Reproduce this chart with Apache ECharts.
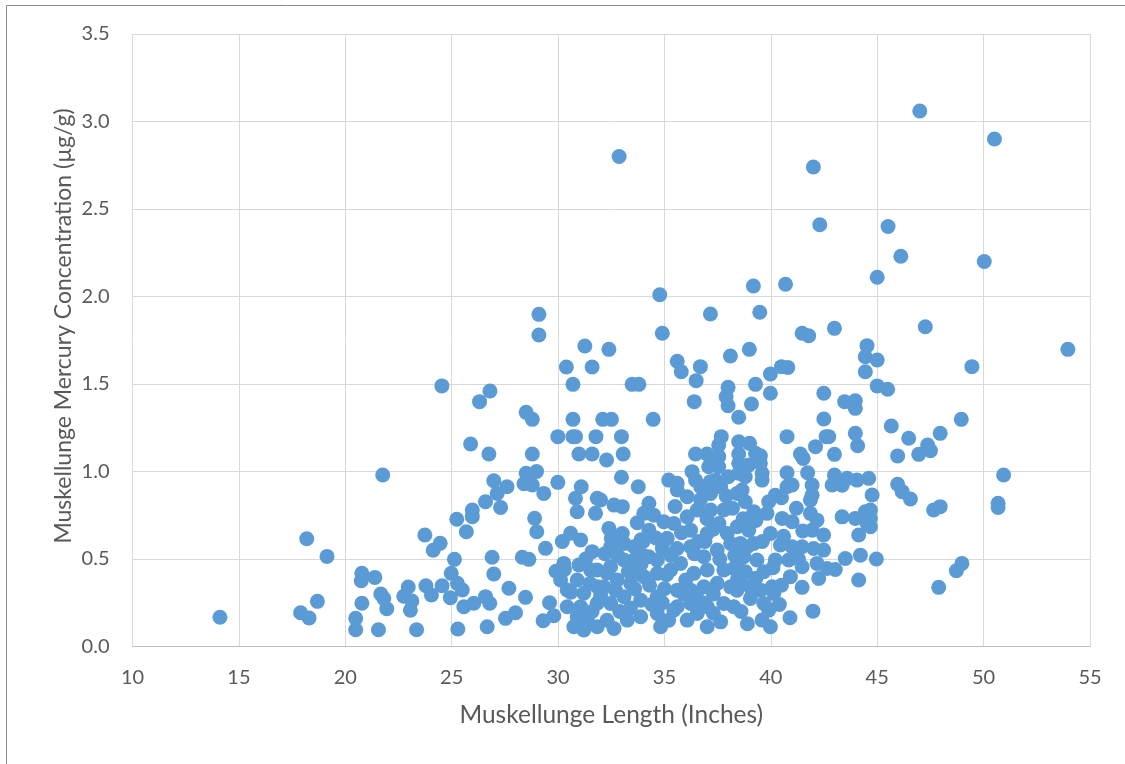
<!DOCTYPE html>
<html>
<head>
<meta charset="utf-8">
<script src="https://cdn.jsdelivr.net/npm/echarts@6/dist/echarts.min.js"></script>
<style>html,body{margin:0;padding:0;background:#fff}#c{width:1125px;height:764px}</style>
</head>
<body>
<div id="c"></div>
<script>
// Muskellunge length (inches) and mercury concentration (µg/g)
var lengthInches = [
32.87,47.0,50.51,42.0,42.3,45.51,46.11,50.03,45.0,39.18,40.69,34.78,
24.54,21.76,18.19,19.14,14.11,17.9,18.3,18.69,20.78,20.75,21.39,20.78,20.49,20.49,21.56,21.67,21.81,21.95,22.96,22.75,23.13,23.06,23.35,23.74,24.46,24.13,23.79,24.05,24.55,25.13,24.98,24.94,25.24,25.29,
29.1,29.1,31.26,32.39,30.39,31.6,30.7,33.48,33.8,26.8,26.31,28.5,28.79,30.7,32.1,32.51,34.47,29.99,30.7,30.82,31.78,32.98,25.89,26.75,28.79,30.98,31.6,32.28,33.06,32.98,26.98,28.5,28.99,27.6,28.4,29.99,31.09,33.77,
34.9,37.16,39.48,41.47,41.78,42.99,44.52,44.44,44.44,35.6,35.79,36.69,36.49,38.1,38.99,39.98,40.5,40.8,37.99,37.9,37.99,39.28,39.98,39.09,38.49,36.4,42.49,43.47,43.97,43.97,42.49,43.97,44.08,42.72,42.6,42.1,42.99,40.76,41.39,41.52,37.67,37.55,38.49,39.0,38.49,39.28,39.51,36.46,37.0,37.55,36.3,37.08,37.55,38.49,38.96,39.51,39.59,39.59,40.76,41.73,42.99,43.58,44.05,44.6,35.2,35.6,36.46,37.16,38.49,38.8,40.76,41.0,41.94,42.88,38.65,
47.26,49.45,53.96,45.0,45.0,45.49,45.66,48.95,47.96,46.48,47.37,47.5,46.95,45.96,50.94,45.96,46.17,46.56,44.76,47.65,47.96,50.68,50.68,44.68,44.68,44.68,44.96,48.98,48.72,47.89,
27.14,29.33,26.59,27.3,25.97,25.97,25.69,28.9,29.0,29.41,26.9,26.98,28.32,28.63,25.27,25.5,27.69,28.47,26.59,26.79,25.57,26.04,27.53,28.0,26.67,29.3,29.8,28.79,
30.82,30.9,31.76,31.84,30.59,31.06,31.6,30.27,30.98,30.12,30.9,31.53,30.43,31.21,31.84,30.43,31.06,31.84,30.9,31.37,30.74,31.21,31.84,
32.0,32.63,33.02,34.27,34.03,33.72,34.27,32.39,33.02,33.1,32.47,31.84,32.47,33.57,34.27,34.97,35.13,34.9,35.44,36.07,36.54,37.17,37.79,37.56,37.95,38.42,38.42,35.6,36.07,36.7,37.17,37.64,36.23,36.85,37.48,38.11,35.76,36.38,37.01,37.79,38.42,32.16,32.78,33.41,34.03,34.66,35.29,32.47,33.1,33.88,34.66,35.6,36.23,36.85,37.48,38.11,38.42,32.63,33.25,33.88,34.66,34.82,35.44,36.07,36.54,37.01,37.64,38.26,37.79,37.01,36.23,35.6,
33.57,34.66,33.1,36.23,37.01,35.6,36.6,34.0,35.0,33.5,37.3,36.0,
41.94,43.35,38.8,39.2,39.9,40.21,39.82,40.53,41.0,41.86,41.86,42.17,41.94,42.48,43.35,43.97,44.44,44.52,44.13,39.98,38.96,38.57,39.2,40.45,41.0,41.47,42.01,42.48,38.73,39.35,40.21,40.84,41.47,42.17,42.64,43.03,43.5,44.21,42.25,44.13,38.26,38.8,39.67,40.92,41.47,40.06,39.04,38.41,39.51,40.14,39.04,39.67,39.9,39.59,39.98,40.9,41.98,
30.3,30.6,31.5,31.3,32.2,32.5,32.8,33.3,33.6,33.4,32.9,32.3,32.0,32.7,33.9,34.3,34.4,34.9,35.2,35.3,35.8,35.5,34.6,34.5,34.0,35.9,36.5,36.8,37.3,36.4,36.9,37.3,37.6,37.0,36.7,37.9,38.2,37.4,38.0,38.3,38.6,38.9,39.3,39.6,38.7,39.3,40.1,40.5,40.6,40.5,41.2,41.3,41.5,40.4,38.6,38.9,31.6,29.6,29.9,30.2,32.3,33.9,35.1
];
var mercuryUgG = [
2.80,3.06,2.90,2.74,2.41,2.40,2.23,2.20,2.11,2.06,2.07,2.01,
1.489,0.98,0.616,0.515,0.167,0.193,0.163,0.258,0.418,0.376,0.395,0.247,0.161,0.096,0.096,0.30,0.275,0.216,0.34,0.287,0.26,0.207,0.096,0.637,0.59,0.55,0.347,0.294,0.347,0.498,0.418,0.279,0.727,0.10,
1.898,1.78,1.717,1.698,1.597,1.597,1.498,1.498,1.498,1.46,1.399,1.338,1.298,1.298,1.298,1.298,1.298,1.199,1.199,1.199,1.199,1.199,1.157,1.10,1.10,1.10,1.10,1.066,1.10,0.967,0.947,0.99,1.0,0.913,0.93,0.938,0.913,0.913,
1.79,1.90,1.91,1.79,1.776,1.818,1.719,1.656,1.57,1.63,1.57,1.599,1.519,1.66,1.698,1.557,1.599,1.595,1.481,1.427,1.376,1.498,1.447,1.386,1.31,1.399,1.447,1.399,1.404,1.361,1.30,1.218,1.147,1.199,1.199,1.142,1.098,1.199,1.10,1.075,1.199,1.151,1.17,1.161,1.10,1.104,1.09,1.10,1.10,1.085,0.999,1.027,1.027,1.047,1.037,1.047,0.99,0.951,0.993,0.993,0.98,0.961,0.951,0.961,0.951,0.933,0.951,0.942,0.99,0.97,0.913,0.923,0.923,0.923,0.894,
1.827,1.599,1.698,1.637,1.489,1.47,1.26,1.298,1.218,1.19,1.151,1.119,1.098,1.089,0.98,0.927,0.885,0.843,0.866,0.78,0.799,0.818,0.795,0.78,0.733,0.685,0.50,0.475,0.433,0.338,
0.875,0.875,0.827,0.795,0.78,0.742,0.656,0.733,0.656,0.561,0.51,0.414,0.51,0.498,0.361,0.323,0.333,0.281,0.285,0.247,0.227,0.247,0.161,0.193,0.113,0.147,0.176,0.923,
0.847,0.77,0.761,0.847,0.647,0.609,0.542,0.475,0.466,0.38,0.38,0.437,0.323,0.304,0.342,0.227,0.227,0.247,0.17,0.151,0.113,0.094,0.113,
0.837,0.808,0.799,0.818,0.761,0.707,0.665,0.675,0.646,0.589,0.57,0.437,0.456,0.494,0.513,0.713,0.618,0.56,0.703,0.741,0.78,0.78,0.78,0.703,0.646,0.684,0.875,0.894,0.856,0.913,0.875,0.913,0.57,0.513,0.551,0.589,0.475,0.418,0.437,0.437,0.475,0.341,0.38,0.361,0.399,0.418,0.437,0.246,0.284,0.265,0.284,0.322,0.322,0.341,0.361,0.341,0.38,0.103,0.151,0.17,0.189,0.113,0.208,0.151,0.189,0.113,0.141,0.227,0.246,0.227,0.246,0.227,
0.57,0.494,0.494,0.665,0.646,0.56,0.60,0.60,0.33,0.42,0.30,0.38,
0.865,0.922,0.827,0.77,0.827,0.865,0.761,0.732,0.713,0.837,0.761,0.722,0.665,0.637,0.741,0.732,0.77,0.703,0.637,0.646,0.665,0.589,0.589,0.58,0.57,0.57,0.56,0.551,0.513,0.494,0.494,0.494,0.456,0.475,0.446,0.44,0.503,0.522,0.389,0.38,0.446,0.427,0.427,0.399,0.338,0.341,0.341,0.322,0.322,0.303,0.275,0.246,0.208,0.151,0.113,0.164,0.202,
0.44,0.31,0.36,0.50,0.53,0.62,0.52,0.43,0.33,0.22,0.20,0.15,0.29,0.32,0.47,0.35,0.24,0.25,0.15,0.52,0.65,0.80,0.62,0.75,0.52,0.30,0.30,0.25,0.19,0.53,0.60,0.67,0.50,0.73,0.84,0.86,0.79,0.95,0.97,0.52,0.39,0.57,0.72,0.60,0.73,0.39,0.45,0.35,0.63,0.85,0.79,0.50,0.66,0.24,0.20,0.13,0.20,0.25,0.43,0.60,0.42,0.61,0.41
];
var xTicks = {min: 10, max: 55, step: 5};
var yTicks = {min: 0, max: 3.5, step: 0.5};
var xTitle = 'Muskellunge Length (Inches)';
var yTitle = 'Muskellunge Mercury Concentration (\u00b5g/g)';

var points = [];
var n = Math.min(lengthInches.length, mercuryUgG.length);
for (var i = 0; i < n; i++) points.push([lengthInches[i], mercuryUgG[i]]);

var FONT = 'Lato';
var chart = echarts.init(document.getElementById('c'), null, {renderer: 'canvas'});
chart.setOption({
  animation: false,
  backgroundColor: '#ffffff',
  graphic: [{
    type: 'rect', silent: true, z: -1,
    shape: {x: 6.5, y: 5.5, width: 1140, height: 780},
    style: {fill: 'none', stroke: '#8a8a8a', lineWidth: 1}
  }, {
    type: 'text', silent: true,
    x: 64, y: 326, rotation: Math.PI / 2,
    style: {text: yTitle, font: '23px Lato', fill: '#595959', align: 'center', verticalAlign: 'middle'}
  }],
  grid: {left: 132.5, right: 35, top: 34, bottom: 117.5, containLabel: false},
  xAxis: {
    type: 'value', min: xTicks.min, max: xTicks.max, interval: xTicks.step,
    name: xTitle, nameLocation: 'middle', nameGap: 56,
    nameTextStyle: {fontFamily: FONT, fontSize: 24.5, color: '#595959'},
    axisLine: {show: true, lineStyle: {color: '#bfbfbf', width: 1}},
    axisTick: {show: false},
    axisLabel: {fontFamily: FONT, fontSize: 20, color: '#595959', margin: 21},
    splitLine: {show: true, lineStyle: {color: '#d9d9d9', width: 1}}
  },
  yAxis: {
    type: 'value', min: yTicks.min, max: yTicks.max, interval: yTicks.step,
    axisLine: {show: false},
    axisTick: {show: false},
    axisLabel: {fontFamily: FONT, fontSize: 20, color: '#595959', margin: 23,
      formatter: function (v) { return v.toFixed(1); }},
    splitLine: {show: true, lineStyle: {color: '#d9d9d9', width: 1}}
  },
  series: [{
    type: 'scatter',
    data: points,
    symbol: 'circle',
    symbolSize: 15,
    itemStyle: {color: '#5b9bd5', opacity: 1},
    emphasis: {disabled: true}
  }]
});
</script>
</body>
</html>
